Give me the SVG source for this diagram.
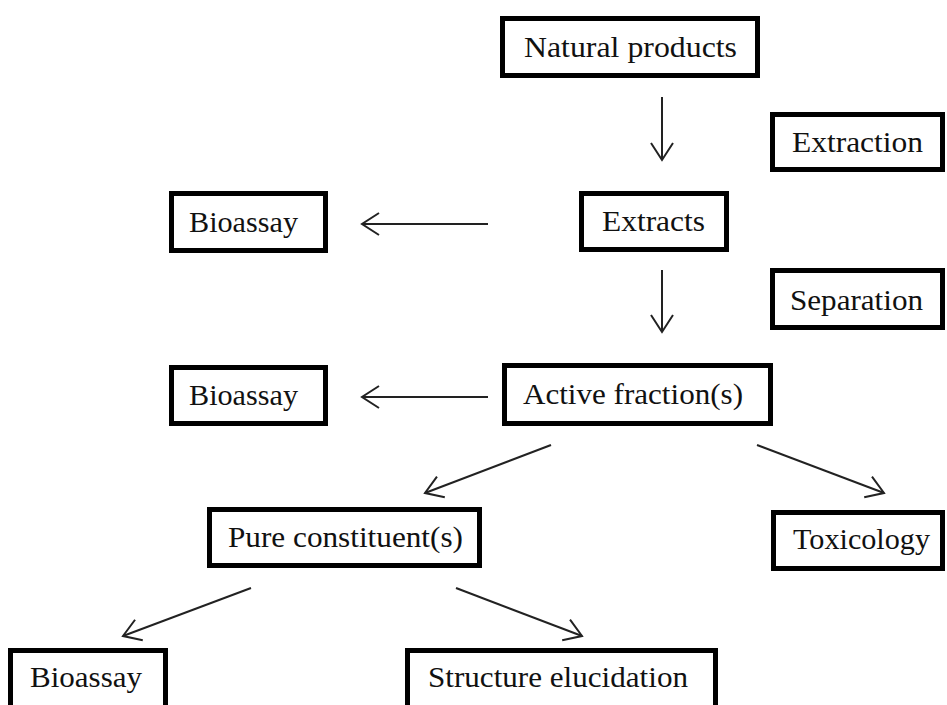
<svg xmlns="http://www.w3.org/2000/svg" width="947" height="705" viewBox="0 0 947 705">
<style>
.box{fill:#fff;stroke:#000;stroke-width:5;}
.lbl{font-family:"Liberation Serif","Times New Roman",serif;font-size:30px;fill:#111;}
.con{stroke:#222;stroke-width:2;fill:none;}
</style>
<defs>
<marker id="ah" markerUnits="userSpaceOnUse" markerWidth="40" markerHeight="40" viewBox="-20 -20 40 40" refX="0" refY="0" orient="auto" overflow="visible">
<path d="M -17 -11 L 0 0 L -17 11" fill="none" stroke="#222" stroke-width="2"/>
</marker>
</defs>
<rect width="947" height="705" fill="#fff"/>
<g id="connectors">
<line class="con" x1="662" y1="97" x2="662" y2="160" marker-end="url(#ah)"/>
<line class="con" x1="488" y1="224" x2="362" y2="224" marker-end="url(#ah)"/>
<line class="con" x1="662" y1="270" x2="662" y2="332" marker-end="url(#ah)"/>
<line class="con" x1="488" y1="397" x2="362" y2="397" marker-end="url(#ah)"/>
<line class="con" x1="551" y1="445" x2="425" y2="493" marker-end="url(#ah)"/>
<line class="con" x1="757" y1="445" x2="884" y2="493" marker-end="url(#ah)"/>
<line class="con" x1="251" y1="588" x2="123" y2="636" marker-end="url(#ah)"/>
<line class="con" x1="456" y1="588" x2="582" y2="636" marker-end="url(#ah)"/>
</g>
<g id="natural-products">
<rect class="box" x="502.5" y="18.5" width="255" height="57"/>
<text class="lbl" x="524" y="57" textLength="213" lengthAdjust="spacingAndGlyphs">Natural products</text>
</g>
<g id="extraction">
<rect class="box" x="772.5" y="114.5" width="170" height="55"/>
<text class="lbl" x="792" y="152" textLength="131" lengthAdjust="spacingAndGlyphs">Extraction</text>
</g>
<g id="bioassay-1">
<rect class="box" x="171.5" y="193.5" width="154" height="57"/>
<text class="lbl" x="189" y="232" textLength="109" lengthAdjust="spacingAndGlyphs">Bioassay</text>
</g>
<g id="extracts">
<rect class="box" x="581.5" y="193.5" width="145" height="56"/>
<text class="lbl" x="602" y="231" textLength="103" lengthAdjust="spacingAndGlyphs">Extracts</text>
</g>
<g id="separation">
<rect class="box" x="772.5" y="270.5" width="170" height="57"/>
<text class="lbl" x="790" y="310" textLength="133" lengthAdjust="spacingAndGlyphs">Separation</text>
</g>
<g id="bioassay-2">
<rect class="box" x="171.5" y="367.5" width="154" height="56"/>
<text class="lbl" x="189" y="405" textLength="109" lengthAdjust="spacingAndGlyphs">Bioassay</text>
</g>
<g id="active-fractions">
<rect class="box" x="504.5" y="365.5" width="266" height="58"/>
<text class="lbl" x="523" y="404" textLength="220" lengthAdjust="spacingAndGlyphs">Active fraction(s)</text>
</g>
<g id="pure-constituents">
<rect class="box" x="209.5" y="509.5" width="270" height="56"/>
<text class="lbl" x="228" y="547" textLength="235" lengthAdjust="spacingAndGlyphs">Pure constituent(s)</text>
</g>
<g id="toxicology">
<rect class="box" x="773.5" y="512.5" width="169" height="56"/>
<text class="lbl" x="793" y="549" textLength="137" lengthAdjust="spacingAndGlyphs">Toxicology</text>
</g>
<g id="bioassay-3">
<rect class="box" x="10.5" y="650.5" width="155" height="60"/>
<text class="lbl" x="30" y="687" textLength="112" lengthAdjust="spacingAndGlyphs">Bioassay</text>
</g>
<g id="structure-elucidation">
<rect class="box" x="407.5" y="650.5" width="308" height="60"/>
<text class="lbl" x="428" y="687" textLength="260" lengthAdjust="spacingAndGlyphs">Structure elucidation</text>
</g>
</svg>
